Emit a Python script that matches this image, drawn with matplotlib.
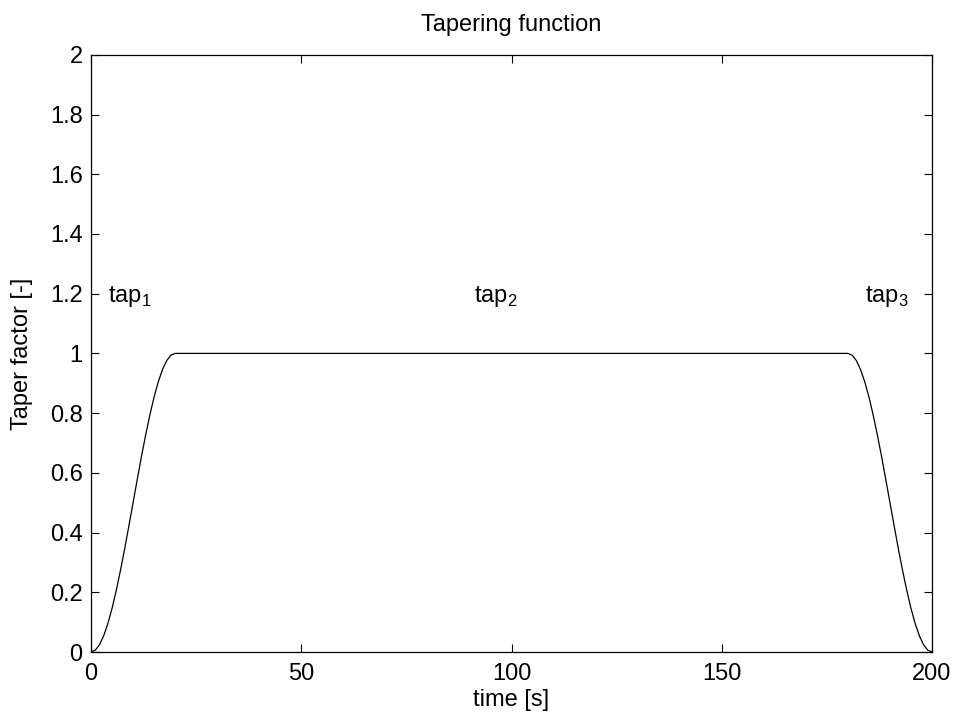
import numpy as np
import matplotlib.pyplot as plt

plt.rcParams['font.family'] = ['Liberation Sans', 'DejaVu Sans']
plt.rcParams['mathtext.fontset'] = 'custom'
plt.rcParams['mathtext.rm'] = 'Liberation Sans'

# taper ramps (cosine shaped) at start and end, flat 1 in between
rise_t = [0, 1, 2, 3, 4, 5, 6, 7, 8, 9, 10, 11, 12, 13, 14, 15, 16, 17, 18, 19, 20]
rise_v = [0, 0.006, 0.024, 0.054, 0.095, 0.146, 0.206, 0.273, 0.345, 0.422, 0.5,
          0.578, 0.655, 0.727, 0.794, 0.854, 0.905, 0.946, 0.976, 0.994, 1.0]
fall_t = [180, 181, 182, 183, 184, 185, 186, 187, 188, 189, 190, 191, 192, 193, 194,
          195, 196, 197, 198, 199, 200]
fall_v = [1.0, 0.994, 0.976, 0.946, 0.905, 0.854, 0.794, 0.727, 0.655, 0.578, 0.5,
          0.422, 0.345, 0.273, 0.206, 0.146, 0.095, 0.054, 0.024, 0.006, 0]

t = np.array(rise_t + fall_t)
taper = np.array(rise_v + fall_v)

labels = ['tap$_\\mathregular{1}$', 'tap$_\\mathregular{2}$', 'tap$_\\mathregular{3}$']
label_t = [4, 91, 184]
label_y = [1.19, 1.19, 1.19]

xticks = [0, 50, 100, 150, 200]
yticks = [0, 0.2, 0.4, 0.6, 0.8, 1, 1.2, 1.4, 1.6, 1.8, 2]
yticklabels = ['0', '0.2', '0.4', '0.6', '0.8', '1', '1.2', '1.4', '1.6', '1.8', '2']

fig = plt.figure(figsize=(9.57, 7.18), dpi=100)
ax = fig.add_axes([0.0951, 0.0919, 0.8788, 0.8318])

ax.plot(t, taper, color='black', linewidth=0.9)

for lab, x, y in zip(labels, label_t, label_y):
    ax.text(x, y, lab, fontsize=17, ha='left', va='center')

ax.set_xlim(0, 200)
ax.set_ylim(0, 2)
ax.set_xticks(xticks)
ax.set_yticks(yticks)
ax.set_yticklabels(yticklabels)
ax.tick_params(direction='in', length=6, width=0.8, top=True, right=True,
               labelsize=17)
ax.tick_params(axis='x', pad=8)
ax.tick_params(axis='y', pad=6)
for s in ax.spines.values():
    s.set_linewidth(0.9)

ax.set_title('Tapering function', fontsize=17, pad=17)
ax.set_xlabel('time [s]', fontsize=17, va='center')
ax.set_ylabel('Taper factor [-]', fontsize=17, va='center')
ax.xaxis.set_label_coords(0.5, -0.08)
ax.yaxis.set_label_coords(-0.082, 0.5)

plt.savefig('out.png', dpi=100)
